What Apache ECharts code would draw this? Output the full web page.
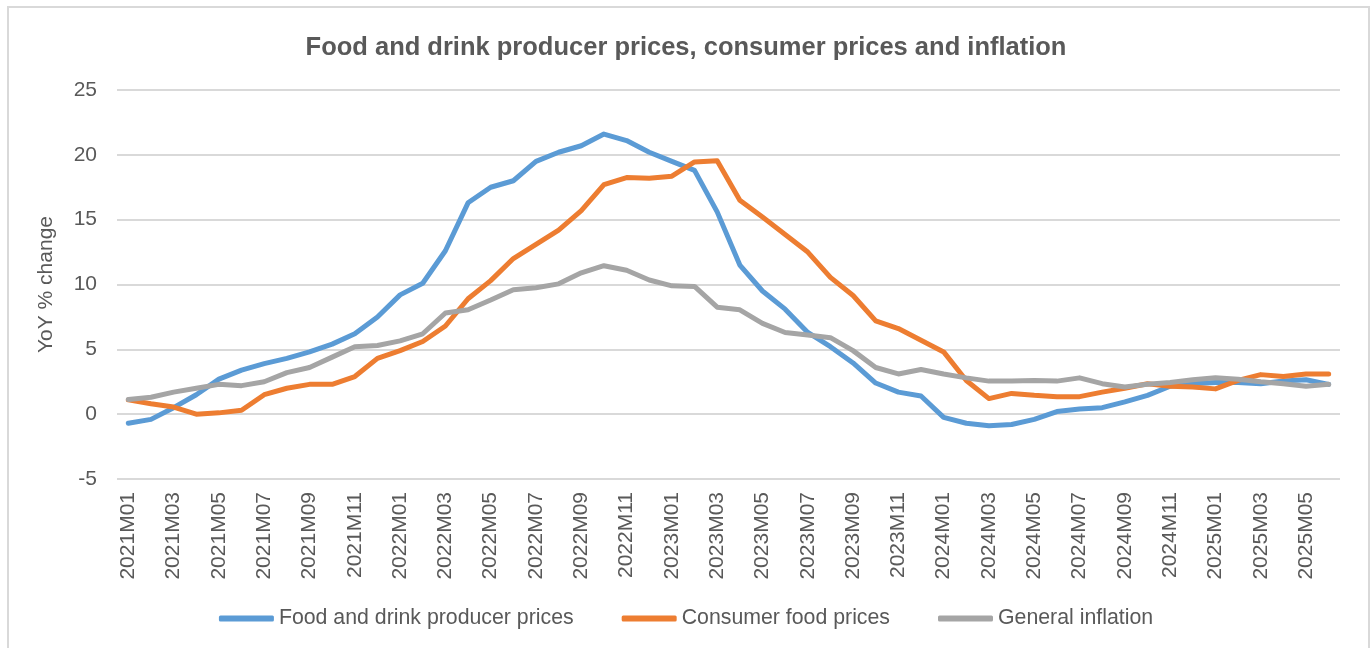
<!DOCTYPE html>
<html>
<head>
<meta charset="utf-8">
<style>
  html, body { margin: 0; padding: 0; background: #ffffff; }
  #chart { width: 1372px; height: 648px; }
</style>
<script src="https://cdn.jsdelivr.net/npm/echarts@6/dist/echarts.min.js"></script>
</head>
<body>
<div id="chart"></div>
<script>
var categories = [
  "2021M01","2021M02","2021M03","2021M04","2021M05","2021M06","2021M07","2021M08","2021M09","2021M10","2021M11","2021M12",
  "2022M01","2022M02","2022M03","2022M04","2022M05","2022M06","2022M07","2022M08","2022M09","2022M10","2022M11","2022M12",
  "2023M01","2023M02","2023M03","2023M04","2023M05","2023M06","2023M07","2023M08","2023M09","2023M10","2023M11","2023M12",
  "2024M01","2024M02","2024M03","2024M04","2024M05","2024M06","2024M07","2024M08","2024M09","2024M10","2024M11","2024M12",
  "2025M01","2025M02","2025M03","2025M04","2025M05","2025M06"
];

var producerPrices = [
  -0.7, -0.4, 0.5, 1.5, 2.7, 3.4, 3.9, 4.3, 4.8, 5.4, 6.2, 7.5,
  9.2, 10.1, 12.6, 16.3, 17.5, 18.0, 19.5, 20.2, 20.7, 21.6, 21.1, 20.2,
  19.5, 18.8, 15.6, 11.5, 9.5, 8.1, 6.3, 5.2, 3.95, 2.4, 1.7, 1.4,
  -0.25, -0.7, -0.9, -0.8, -0.4, 0.2, 0.4, 0.5, 0.95, 1.45, 2.15, 2.35,
  2.45, 2.45, 2.35, 2.55, 2.65, 2.3
];

var consumerFoodPrices = [
  1.1, 0.8, 0.55, 0.0, 0.1, 0.3, 1.5, 2.0, 2.3, 2.3, 2.9, 4.3,
  4.9, 5.6, 6.8, 8.9, 10.3, 12.0, 13.1, 14.2, 15.7, 17.7, 18.25, 18.2,
  18.35, 19.45, 19.55, 16.5, 15.2, 13.85, 12.5, 10.55, 9.15, 7.2, 6.6, 5.7,
  4.8, 2.6, 1.2, 1.6, 1.45, 1.35, 1.35, 1.7, 2.0, 2.35, 2.15, 2.1,
  1.95, 2.6, 3.05, 2.9, 3.1, 3.1
];

var generalInflation = [
  1.13, 1.3, 1.7, 2.0, 2.3, 2.2, 2.5, 3.2, 3.6, 4.4, 5.2, 5.3,
  5.65, 6.2, 7.8, 8.05, 8.8, 9.6, 9.75, 10.05, 10.9, 11.45, 11.1, 10.35,
  9.9, 9.85, 8.25, 8.05, 7.0, 6.3, 6.1, 5.9, 4.9, 3.6, 3.1, 3.45,
  3.1, 2.8, 2.55, 2.55, 2.6, 2.55, 2.8, 2.35, 2.1, 2.3, 2.45, 2.65,
  2.8, 2.7, 2.5, 2.35, 2.15, 2.3
];

var seriesNames = ["Food and drink producer prices", "Consumer food prices", "General inflation"];
var yTicks = [-5, 0, 5, 10, 15, 20, 25];

var FONT = "'Liberation Sans', Arial, sans-serif";
var TEXT = "#595959";

var chart = echarts.init(document.getElementById('chart'), null, { renderer: 'canvas' });

function lineSeries(name, data, color) {
  return {
    name: name,
    type: 'line',
    data: data,
    symbol: 'none',
    smooth: false,
    lineStyle: { width: 5, color: color, cap: 'round', join: 'round' },
    itemStyle: { color: color },
    emphasis: { disabled: true }
  };
}

chart.setOption({
  animation: false,
  backgroundColor: '#ffffff',
  textStyle: { fontFamily: FONT },
  title: {
    text: 'Food and drink producer prices, consumer prices and inflation',
    left: 'center',
    top: 30,
    textStyle: { fontFamily: FONT, fontSize: 25.5, fontWeight: 'bold', color: TEXT }
  },
  graphic: [{
    type: 'rect',
    shape: { x: 8, y: 7, width: 1361, height: 660 },
    style: { fill: 'none', stroke: '#d9d9d9', lineWidth: 2 },
    silent: true
  }],
  grid: { left: 117, right: 32, top: 90, bottom: 169, containLabel: false },
  legend: {
    data: seriesNames,
    top: 603,
    left: 'center',
    icon: 'roundRect',
    itemWidth: 55,
    itemHeight: 6,
    itemGap: 48,
    textStyle: { fontFamily: FONT, fontSize: 21.3, color: TEXT }
  },
  xAxis: {
    type: 'category',
    data: categories,
    boundaryGap: true,
    axisLine: { show: false },
    axisTick: { show: false },
    axisLabel: {
      interval: 1,
      rotate: 90,
      margin: 13,
      fontFamily: FONT,
      fontSize: 21,
      color: TEXT
    },
    splitLine: { show: false }
  },
  yAxis: {
    type: 'value',
    min: yTicks[0],
    max: yTicks[yTicks.length - 1],
    interval: 5,
    name: 'YoY % change',
    nameLocation: 'middle',
    nameGap: 60,
    nameTextStyle: { fontFamily: FONT, fontSize: 21, color: TEXT },
    axisLine: { show: false },
    axisTick: { show: false },
    axisLabel: { margin: 20, fontFamily: FONT, fontSize: 21, color: TEXT },
    splitLine: { show: true, lineStyle: { color: '#d9d9d9', width: 2 } }
  },
  series: [
    lineSeries(seriesNames[0], producerPrices, '#5B9BD5'),
    lineSeries(seriesNames[1], consumerFoodPrices, '#ED7D31'),
    lineSeries(seriesNames[2], generalInflation, '#A5A5A5')
  ]
});
</script>
</body>
</html>
